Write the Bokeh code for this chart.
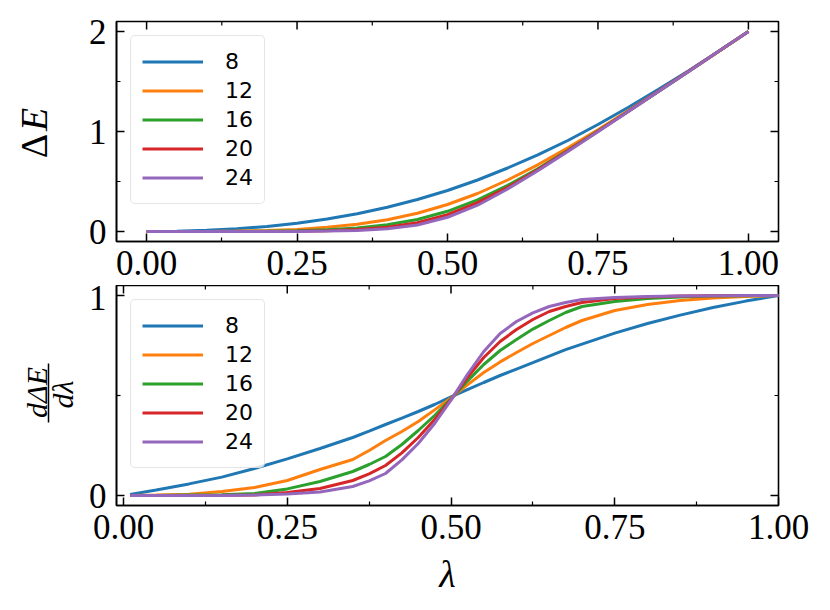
import numpy as np
from bokeh.plotting import figure
from bokeh.models import (Range1d, FixedTicker, Legend, LegendItem, CustomJSTickFormatter)
from bokeh.layouts import column, row
from bokeh.embed import file_html
from bokeh.resources import INLINE
from bokeh.core.properties import value

# ---------------- data ----------------
sizes = ["8", "12", "16", "20", "24"]
colors = ["#1f77b4", "#ff7f0e", "#2ca02c", "#d62728", "#9467bd"]

lam_top = [0.0, 0.05, 0.1, 0.15, 0.2, 0.25, 0.3, 0.35, 0.4, 0.45, 0.5,
           0.55, 0.6, 0.65, 0.7, 0.75, 0.8, 0.85, 0.9, 0.95, 1.0]
dE_8 = [0.0, 0.003, 0.012, 0.027, 0.05, 0.083, 0.125, 0.178, 0.242, 0.32, 0.41,
        0.515, 0.635, 0.767, 0.91, 1.07, 1.24, 1.42, 1.605, 1.80, 2.0]
dE_12 = [0.0, 0.0, 0.001, 0.004, 0.01, 0.021, 0.042, 0.073, 0.118, 0.183, 0.27,
         0.38, 0.515, 0.667, 0.836, 1.017, 1.207, 1.40, 1.598, 1.798, 2.0]
dE_16 = [0.0, 0.0, 0.0002, 0.001, 0.002, 0.007, 0.017, 0.036, 0.068, 0.12, 0.202,
         0.317, 0.462, 0.628, 0.812, 1.005, 1.2, 1.398, 1.598, 1.799, 2.0]
dE_20 = [0.0, 0.0, 0.0, 0.0001, 0.0005, 0.0025, 0.008, 0.02, 0.043, 0.088, 0.168,
         0.288, 0.442, 0.618, 0.807, 1.002, 1.2, 1.399, 1.599, 1.8, 2.0]
dE_24 = [0.0, 0.0, 0.0, 0.0, 0.0002, 0.001, 0.004, 0.011, 0.027, 0.065, 0.142,
         0.263, 0.425, 0.607, 0.8, 0.998, 1.197, 1.397, 1.598, 1.799, 2.0]

lam_bot = [0.01, 0.05, 0.1, 0.15, 0.2, 0.25, 0.3, 0.35, 0.375, 0.4, 0.425, 0.45,
           0.475, 0.5, 0.525, 0.55, 0.575, 0.6, 0.625, 0.65, 0.675, 0.7, 0.75,
           0.8, 0.85, 0.9, 0.95, 1.0]
dd_8 = [0.005, 0.028, 0.058, 0.092, 0.135, 0.183, 0.235, 0.29, 0.322, 0.355, 0.387,
        0.42, 0.455, 0.493, 0.529, 0.565, 0.6, 0.632, 0.664, 0.697, 0.729, 0.757,
        0.812, 0.86, 0.902, 0.94, 0.972, 1.0]
dd_12 = [0.0, 0.002, 0.006, 0.02, 0.04, 0.075, 0.13, 0.18, 0.225, 0.275, 0.32,
         0.37, 0.428, 0.488, 0.553, 0.615, 0.668, 0.715, 0.76, 0.8, 0.84, 0.875,
         0.925, 0.955, 0.975, 0.988, 0.995, 1.0]
dd_16 = [0.0, 0.0, 0.002, 0.004, 0.01, 0.033, 0.07, 0.12, 0.155, 0.195, 0.255,
         0.325, 0.4, 0.483, 0.572, 0.655, 0.725, 0.78, 0.832, 0.875, 0.915, 0.945,
         0.97, 0.985, 0.993, 0.997, 0.999, 1.0]
dd_20 = [0.0, 0.0, 0.0, 0.001, 0.003, 0.015, 0.035, 0.075, 0.108, 0.15, 0.213,
         0.29, 0.38, 0.48, 0.59, 0.69, 0.77, 0.83, 0.88, 0.92, 0.945, 0.965,
         0.985, 0.993, 0.997, 0.999, 1.0, 1.0]
dd_24 = [0.0, 0.0, 0.0, 0.0, 0.002, 0.008, 0.018, 0.045, 0.073, 0.11, 0.178,
         0.26, 0.36, 0.477, 0.605, 0.72, 0.81, 0.87, 0.913, 0.945, 0.965, 0.98,
         0.99, 0.995, 0.998, 0.999, 1.0, 1.0]

x_ticks = [0.0, 0.25, 0.5, 0.75, 1.0]
x_minor = [0.125, 0.375, 0.625, 0.875]
x_tick_labels = ["0.00", "0.25", "0.50", "0.75", "1.00"]
y_top_ticks = [0, 1, 2]
y_top_minor = [0.5, 1.5]
y_top_labels = ["0", "1", "2"]
y_bot_ticks = [0, 1]
y_bot_minor = [0.5]
y_bot_labels = ["0", "1"]

top_series = [dE_8, dE_12, dE_16, dE_20, dE_24]
bot_series = [dd_8, dd_12, dd_16, dd_20, dd_24]

SERIF = "Liberation Serif"
TICK_FS = "35px"
MAJ, MIN = 8, 4
LW = 84          # width of the side figure holding the y-axis titles


def fmt(tvals, tlabels):
    return CustomJSTickFormatter(
        args=dict(tv=tvals, tl=tlabels),
        code="for (let i = 0; i < tv.length; i++) {"
             " if (Math.abs(tv[i] - tick) < 1e-9) return tl[i]; }"
             " return '';")


def style_axis(ax, label_standoff):
    ax.axis_line_color = "black"
    ax.axis_line_width = 1.6
    ax.major_tick_in = MAJ
    ax.major_tick_out = 0
    ax.minor_tick_in = MIN
    ax.minor_tick_out = 0
    ax.major_tick_line_width = 1.5
    ax.minor_tick_line_width = 1.2
    ax.major_tick_line_color = "black"
    ax.minor_tick_line_color = "black"
    ax.major_label_text_font = SERIF
    ax.major_label_text_font_size = TICK_FS
    ax.major_label_text_color = "black"
    ax.major_label_standoff = label_standoff


def make_fig(height, border_top, border_bottom, xr, yr, yt, ym, ylab):
    p = figure(width=734, height=height, x_range=Range1d(*xr), y_range=Range1d(*yr),
               output_backend="svg", toolbar_location=None,
               min_border_left=32, min_border_right=40,
               min_border_top=border_top, min_border_bottom=border_bottom)
    p.grid.visible = False
    p.outline_line_color = "black"
    p.outline_line_width = 1.6
    p.background_fill_color = "white"
    p.border_fill_color = "white"
    p.xaxis.ticker = FixedTicker(ticks=x_ticks, minor_ticks=x_minor)
    p.yaxis.ticker = FixedTicker(ticks=yt, minor_ticks=ym)
    p.xaxis.formatter = fmt(x_ticks, x_tick_labels)
    p.yaxis.formatter = fmt(yt, ylab)
    style_axis(p.xaxis[0], 9)
    style_axis(p.yaxis[0], 10)
    # mirrored inward ticks on the top and right edges
    n1, n2 = len(x_ticks), len(x_minor)
    p.ray(x=x_ticks, y=[yr[1]] * n1, length=MAJ, length_units="screen",
          angle=-np.pi / 2, line_color="black", line_width=1.5)
    p.ray(x=x_minor, y=[yr[1]] * n2, length=MIN, length_units="screen",
          angle=-np.pi / 2, line_color="black", line_width=1.2)
    p.ray(x=[xr[1]] * len(yt), y=yt, length=MAJ, length_units="screen",
          angle=np.pi, line_color="black", line_width=1.5)
    p.ray(x=[xr[1]] * len(ym), y=ym, length=MIN, length_units="screen",
          angle=np.pi, line_color="black", line_width=1.2)
    return p


def add_lines(p, xs, series):
    items = []
    for s, ys, c in zip(sizes, series, colors):
        r = p.line(xs, ys, line_color=c, line_width=3)
        items.append(LegendItem(label=s, renderers=[r]))
    leg = Legend(items=items, location="top_left", margin=14, padding=11,
                 spacing=0, label_height=29, glyph_height=29, glyph_width=61,
                 label_standoff=22, label_text_font="DejaVu Sans",
                 label_text_font_size="22px", label_text_color="black",
                 border_line_color="#cccccc",
                 border_line_width=1.5, background_fill_alpha=0.8)
    if hasattr(leg, "border_radius"):
        try:
            leg.border_radius = 5
        except Exception:
            pass
    p.add_layout(leg)


def label_fig(height, frame_top, frame_bottom):
    # the row aligns this figure's frame with the neighbouring plot frame,
    # so its y range spans exactly that frame (page pixels, negated)
    q = figure(width=LW, height=height, x_range=Range1d(0, LW),
               y_range=Range1d(-frame_bottom, -frame_top),
               output_backend="svg", toolbar_location=None,
               x_axis_type=None, y_axis_type=None, min_border=0)
    q.grid.visible = False
    q.outline_line_color = None
    q.background_fill_color = "white"
    q.border_fill_color = "white"
    return q


H1, H2 = 285, 322

p1 = make_fig(H1, 21, 44, (-0.05, 1.05), (-0.1, 2.1), y_top_ticks, y_top_minor, y_top_labels)
add_lines(p1, lam_top, top_series)

l1 = label_fig(H1, 21, 241)
l1.text(x=[33.5], y=[-145.5], text=["Δ"], angle=np.pi / 2, text_align="center",
        text_baseline="middle", text_font=value(SERIF), text_font_size=value("38px"),
        text_color="black")
l1.text(x=[33.5], y=[-119], text=["E"], angle=np.pi / 2, text_align="center",
        text_baseline="middle", text_font=value(SERIF), text_font_style="italic",
        text_font_size=value("38px"), text_color="black")

p2 = make_fig(H2, 0, 102, (-0.0107, 1.0), (-0.05, 1.05), y_bot_ticks, y_bot_minor, y_bot_labels)
add_lines(p2, lam_bot, bot_series)
xb = p2.below[0]
xb.axis_label = "λ"
xb.axis_label_text_font = SERIF
xb.axis_label_text_font_style = "italic"
xb.axis_label_text_font_size = "38px"
xb.axis_label_text_color = "black"
xb.axis_label_standoff = 11

l2 = label_fig(H2, 285, 505)
l2.text(x=[36], y=[-392], text=["dΔE"], angle=np.pi / 2, text_align="center",
        text_baseline="middle", text_font=value(SERIF), text_font_style="italic",
        text_font_size=value("30px"), text_color="black")
l2.text(x=[62], y=[-394], text=["dλ"], angle=np.pi / 2, text_align="center",
        text_baseline="middle", text_font=value(SERIF), text_font_style="italic",
        text_font_size=value("30px"), text_color="black")
l2.segment(x0=[48], y0=[-422], x1=[48], y1=[-363],
           line_color="black", line_width=1.5)

layout = column(row(l1, p1, spacing=0), row(l2, p2, spacing=0), spacing=0)
open("out.html", "w").write(file_html(layout, INLINE))
